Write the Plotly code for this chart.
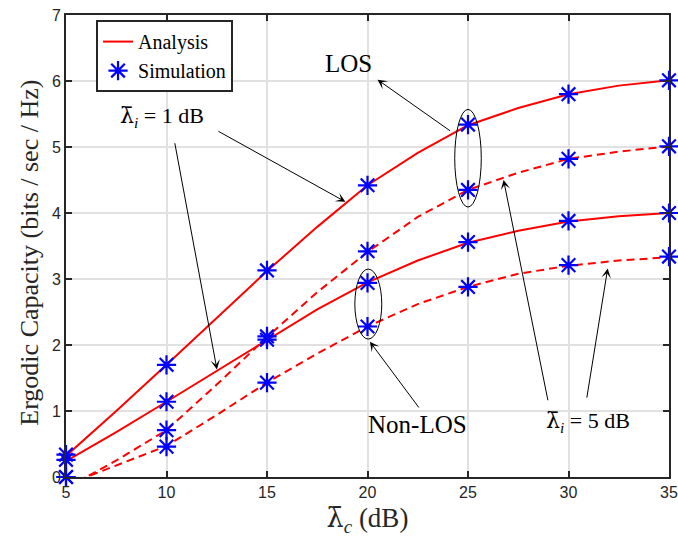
import plotly.graph_objects as go

# ---------------- data ----------------
x_analysis = [5, 7.5, 10, 12.5, 15, 17.5, 20, 22.5, 25, 27.5, 30, 32.5, 35]
los_1db = [0.32, 1.00, 1.70, 2.41, 3.12, 3.79, 4.42, 4.91, 5.33, 5.59, 5.80, 5.93, 6.01]
los_5db = [-0.17, 0.25, 0.71, 1.40, 2.12, 2.80, 3.41, 3.94, 4.35, 4.61, 4.82, 4.93, 5.01]
nlos_1db = [0.24, 0.68, 1.14, 1.61, 2.08, 2.54, 2.95, 3.28, 3.55, 3.73, 3.87, 3.95, 4.00]
nlos_5db = [-0.12, 0.18, 0.47, 0.94, 1.43, 1.87, 2.28, 2.62, 2.88, 3.08, 3.20, 3.28, 3.33]

x_sim = [5, 10, 15, 20, 25, 30, 35]
los_1db_sim = [0.34, 1.70, 3.13, 4.42, 5.34, 5.80, 6.01]
los_5db_sim = [0.00, 0.71, 2.13, 3.42, 4.35, 4.82, 5.01]
nlos_1db_sim = [0.26, 1.14, 2.08, 2.94, 3.56, 3.88, 4.00]
nlos_5db_sim = [0.00, 0.46, 1.43, 2.28, 2.88, 3.21, 3.34]

x_ticks = [5, 10, 15, 20, 25, 30, 35]
y_ticks = [0, 1, 2, 3, 4, 5, 6, 7]

RED = "#ff0000"
BLUE = "#0000ff"
SERIF = "Liberation Serif, Times New Roman, serif"
SANS = "Liberation Sans, Arial, sans-serif"
LAM = "<span style='font-family:DejaVu Serif'>λ̄</span>"

fig = go.Figure()

analysis = [(los_1db, "solid"), (los_5db, "8px,5px"), (nlos_1db, "solid"), (nlos_5db, "8px,5px")]
for i, (ys, dash) in enumerate(analysis):
    fig.add_trace(go.Scatter(
        x=x_analysis, y=ys, mode="lines",
        line=dict(color=RED, width=2, dash=dash),
        name="Analysis", showlegend=(i == 0), legendgroup="a",
    ))

for i, ys in enumerate([los_1db_sim, los_5db_sim, nlos_1db_sim, nlos_5db_sim]):
    fig.add_trace(go.Scatter(
        x=x_sim, y=ys, mode="markers",
        marker=dict(symbol="asterisk-open", size=16, color=BLUE,
                    line=dict(color=BLUE, width=2.2)),
        name="Simulation", showlegend=(i == 0), legendgroup="s",
        cliponaxis=False,
    ))

# ellipses
fig.add_shape(type="circle", xref="x", yref="y", x0=24.34, x1=25.66, y0=4.09, y1=5.57,
              line=dict(color="black", width=1))
fig.add_shape(type="circle", xref="x", yref="y", x0=19.37, x1=20.71, y0=2.09, y1=3.15,
              line=dict(color="black", width=1))

# arrows: (head_x, head_y, tail_x, tail_y)
arrows = [
    (20.50, 6.02, 24.18, 5.23),
    (20.12, 2.05, 22.61, 1.03),
    (18.90, 4.17, 12.51, 5.25),
    (12.51, 1.63, 10.40, 5.08),
    (26.77, 4.50, 28.99, 1.14),
    (31.95, 3.16, 30.90, 1.18),
]
for hx, hy, tx, ty in arrows:
    fig.add_annotation(x=hx, y=hy, ax=tx, ay=ty, xref="x", yref="y", axref="x", ayref="y",
                       text="", showarrow=True, arrowhead=3, arrowsize=1.6, arrowwidth=1,
                       arrowcolor="black")

texts = [
    (19.04, 6.27, "LOS", 25),
    (22.49, 0.79, "Non-LOS", 25),
    (9.78, 5.46, LAM + "<sub><i>i</i></sub> = 1 dB", 22),
    (30.99, 0.84, LAM + "<sub><i>i</i></sub> = 5 dB", 22),
]
for tx, ty, t, s in texts:
    fig.add_annotation(x=tx, y=ty, xref="x", yref="y", text=t, showarrow=False,
                       font=dict(family=SERIF, size=s, color="black"))

# y-axis title as rotated annotation
fig.add_annotation(x=-0.0597, y=0.4855, xref="paper", yref="paper", textangle=-90,
                   text="Ergodic Capacity (bits / sec / Hz)", showarrow=False,
                   xanchor="center", yanchor="middle",
                   font=dict(family=SERIF, size=26, color="#262626"))

axis_common = dict(
    showgrid=True, gridcolor="#e1e1e1", gridwidth=1.5,
    showline=True, linecolor="#262626", linewidth=2, mirror="ticks",
    ticks="inside", ticklen=6, tickwidth=1.5, tickcolor="#262626",
    tickfont=dict(family=SANS, size=16, color="#262626"),
    zeroline=False, automargin=False,
)

fig.update_xaxes(range=[5, 35], tickvals=x_ticks, **axis_common,
                 title=dict(text=LAM + "<sub><i>c</i></sub> (dB)",
                            font=dict(family=SERIF, size=27, color="#262626"), standoff=8))
fig.update_yaxes(range=[0, 7], tickvals=y_ticks, **axis_common)

fig.update_layout(
    template="none",
    width=678, height=540,
    margin=dict(l=66, r=9, t=15, b=63),
    plot_bgcolor="white", paper_bgcolor="white",
    legend=dict(x=0.0498, y=0.989, xanchor="left", yanchor="top",
                bgcolor="white", bordercolor="#262626", borderwidth=2,
                font=dict(family=SERIF, size=20, color="black"),
                traceorder="normal", tracegroupgap=0, itemwidth=30),
)

fig.write_html("out.html", config={"displayModeBar": False},
               post_script="document.body.style.margin='0';document.body.style.overflow='hidden';")
